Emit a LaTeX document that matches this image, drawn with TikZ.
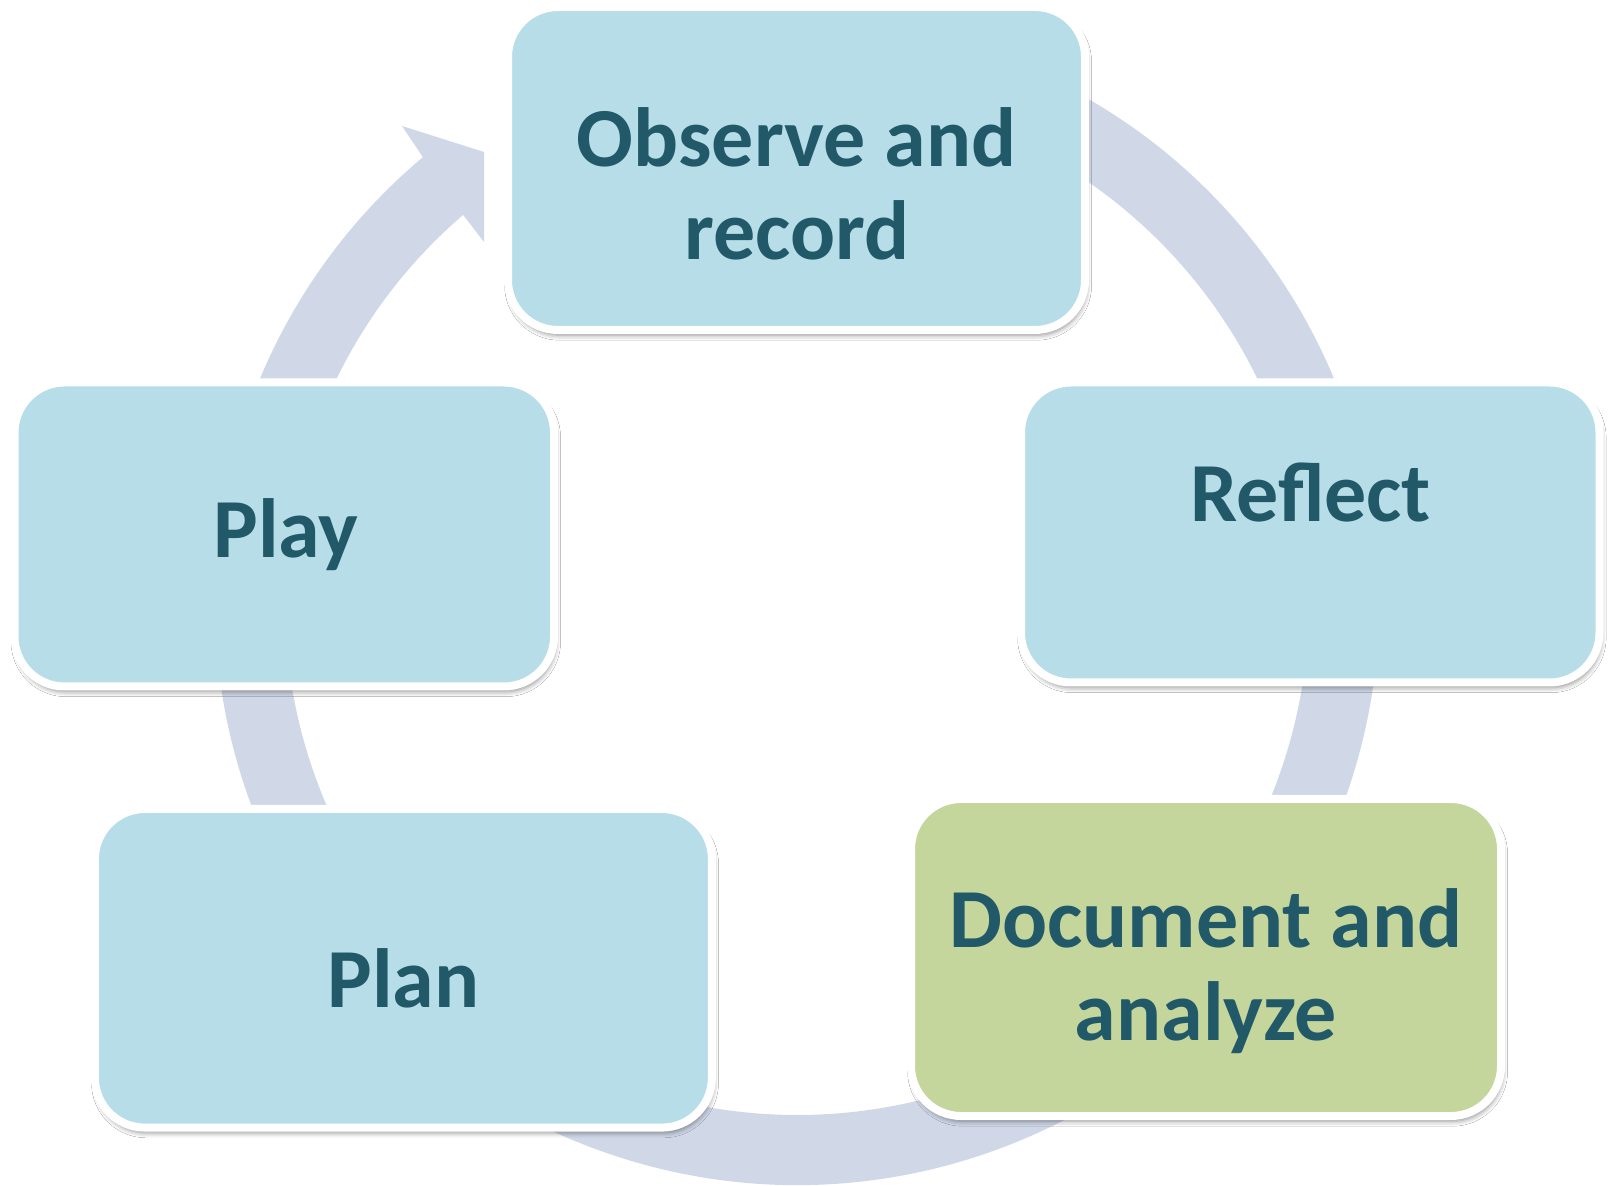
\documentclass[tikz,border=0pt]{standalone}
\usepackage{fontspec}
\setmainfont{Carlito}
\usetikzlibrary{shadows.blur}
\definecolor{boxblue}{HTML}{B7DDE8}
\definecolor{boxgreen}{HTML}{C4D69B}
\definecolor{inkteal}{HTML}{215968}
\definecolor{ringgray}{HTML}{D0D8E8}
\begin{document}
\begin{tikzpicture}[x=0.5pt,y=-0.5pt,
  stage/.style={draw=white, line width=4pt, fill=boxblue, rounded corners=25pt,
    inner sep=0pt,
    blur shadow={shadow xshift=0.8pt, shadow yshift=-2.6pt,
      shadow blur radius=2.5pt, shadow blur extra rounding=2pt,
      shadow opacity=45, shadow scale=1.0}},
  caption/.style={font=\bfseries\fontsize{42}{46.5}\selectfont, text=inkteal,
    align=center, anchor=base, inner sep=0pt}]

\useasboundingbox (0,0) rectangle (1612,1186);
\fill[white] (0,0) rectangle (1612,1186);

% circular arrow running clockwise behind the stages
\coordinate (hub) at (797,603);
\coordinate (barbout) at (402,126);
\coordinate (tip) at (484,152);
\coordinate (barbin) at (484,242);
\path (hub) ++(229.3:512) coordinate (notchin);
\fill[ringgray] (hub) ++(-70:582) arc[start angle=-70, end angle=230, radius=582]
  -- (barbout) -- (tip) -- (barbin) -- (notchin)
  arc[start angle=229.3, end angle=-70, radius=512] -- cycle;

% stages
\node[stage, minimum width=288.5pt, minimum height=161.5pt] (observe) at (796.5,168.5) {};
\node[stage, minimum width=289.25pt, minimum height=150pt] (reflect) at (1310.25,532.5) {};
\node[stage, fill=boxgreen, minimum width=295pt, minimum height=158.5pt] (document) at (1206,957.5) {};
\node[stage, minimum width=308.5pt, minimum height=159.3pt] (plan) at (403.4,968.3) {};
\node[stage, minimum width=269.75pt, minimum height=152pt] (play) at (284.25,534.5) {};

% captions (base anchor sits on the last line)
\node[caption] (observetext) at (796.7,260) {Observe and\\record};
\node[caption] (reflecttext) at (1310.7,522) {Reflect};
\node[caption] (documenttext) at (1206,1040) {Document and\\analyze};
\node[caption] (plantext) at (403.5,1007.5) {Plan};
\node[caption] (playtext) at (286,558) {Play};
\end{tikzpicture}
\end{document}
